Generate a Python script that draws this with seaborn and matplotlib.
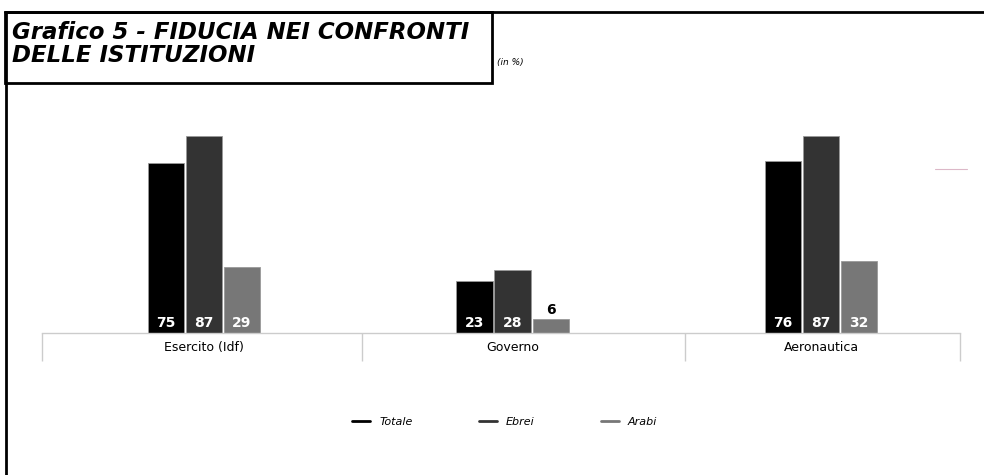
import matplotlib
matplotlib.use("Agg")
import matplotlib.pyplot as plt
import seaborn as sns
import pandas as pd
from matplotlib.lines import Line2D
from matplotlib.patches import Rectangle

categorie = ["Esercito (Idf)", "Governo", "Aeronautica"]
gruppi = ["Totale", "Ebrei", "Arabi"]
totale = [75, 23, 76]
ebrei = [87, 28, 87]
arabi = [29, 6, 32]
colori = ["#000000", "#333333", "#777777"]

rows = []
for i, c in enumerate(categorie):
    for g, vals in zip(gruppi, [totale, ebrei, arabi]):
        rows.append({"categoria": c, "gruppo": g, "valore": vals[i]})
df = pd.DataFrame(rows)

sns.set_style("white")
plt.rcParams['font.family'] = ['DejaVu Sans']
plt.rcParams['text.color'] = 'black'

fig = plt.figure(figsize=(9.84, 4.75), dpi=100)
ax = fig.add_axes([42 / 984, 142 / 475, 918 / 984, 226 / 475])

sns.barplot(data=df, x="categoria", y="valore", hue="gruppo", order=categorie,
            hue_order=gruppi, palette=colori, width=0.37, gap=0.05,
            edgecolor="#999999", linewidth=0.6, legend=False, ax=ax)

ax.set_ylim(0, 100)
ax.set_xlim(-0.525, 2.45)

# value labels
for cont in ax.containers:
    for bar in cont:
        h = bar.get_height()
        xc = bar.get_x() + bar.get_width() / 2
        if h < 10:
            ax.text(xc, h + 1, f"{int(round(h))}", ha="center", va="bottom",
                    color="black", fontsize=10, fontweight="bold")
        else:
            ax.text(xc, 1.2, f"{int(round(h))}", ha="center", va="bottom",
                    color="white", fontsize=10, fontweight="bold")

for s in ["top", "right", "left"]:
    ax.spines[s].set_visible(False)
ax.spines["bottom"].set_color("#cccccc")
ax.spines["bottom"].set_linewidth(1)
ax.set_yticks([])
ax.set_xlabel("")
ax.set_ylabel("")

# dividers as long major ticks, labels on minor ticks
ax.set_xticks([-0.525, 0.512, 1.559, 2.45])
ax.set_xticklabels([])
ax.set_xticks([0, 1, 2], minor=True)
ax.set_xticklabels(categorie, minor=True, fontsize=9, color="black")
ax.tick_params(axis="x", which="major", length=20, width=1, color="#cccccc",
               direction="out", bottom=True)
ax.tick_params(axis="x", which="minor", length=0, pad=6)

# legend
handles = [Line2D([0], [0], color=c, lw=2) for c in colori]
leg = fig.legend(handles, gruppi, loc="center", bbox_to_anchor=(0.513, 0.112), ncol=3,
                 frameon=False, handlelength=1.6, columnspacing=6,
                 prop={"style": "italic", "size": 8})
for t in leg.get_texts():
    t.set_color("black")

# frame lines
fig.add_artist(Line2D([0.005, 1.0], [1 - 12 / 475, 1 - 12 / 475], color="black", lw=2,
                      transform=fig.transFigure))
fig.add_artist(Line2D([0.006, 0.006], [0, 1 - 12 / 475], color="black", lw=2,
                      transform=fig.transFigure))
# title box
fig.add_artist(Rectangle((5 / 984, 1 - 83 / 475), (492 - 5) / 984, (83 - 12) / 475,
                         fill=False, edgecolor="black", lw=2, transform=fig.transFigure))
fig.text(12 / 984, 1 - 44 / 475, "Grafico 5 - FIDUCIA NEI CONFRONTI\nDELLE ISTITUZIONI",
         fontsize=16.5, fontweight="bold", style="italic", ha="left", va="center",
         linespacing=0.95, color="black")
fig.text(497 / 984, 1 - 63 / 475, "(in %)", fontsize=6.5, style="italic",
         ha="left", va="center", color="black")
# small stray mark
fig.add_artist(Line2D([935 / 984, 967 / 984], [1 - 169 / 475, 1 - 169 / 475],
                      color="#dcb8c8", lw=0.8, transform=fig.transFigure))

fig.savefig("out.png", dpi=100)
